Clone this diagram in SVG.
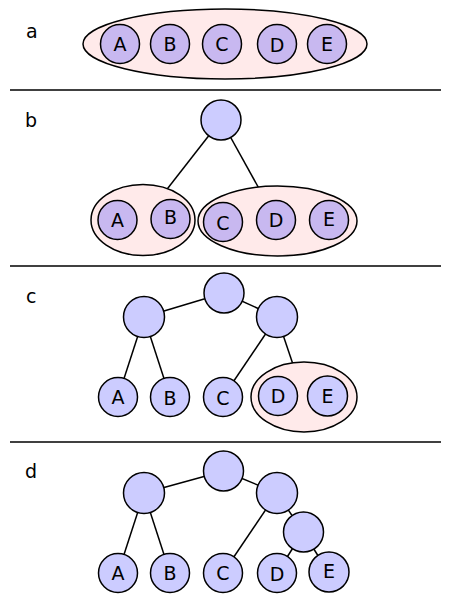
<svg xmlns="http://www.w3.org/2000/svg" width="450" height="602" viewBox="0 0 450 602">
<style>
.bg{fill:#ffffff}
.sep{stroke:#000;stroke-width:1.6}
.grp{fill:#ffeaea;stroke:#000;stroke-width:1.5}
.leafp{fill:#c8b8f0;stroke:#000;stroke-width:1.5}
.node{fill:#ccccff;stroke:#000;stroke-width:1.5}
.edge{stroke:#000;stroke-width:1.5;fill:none}
text{font-family:"DejaVu Sans","Liberation Sans",sans-serif;fill:#000}
.lbl{font-size:19px;text-anchor:middle}
.sec{font-size:19px}
</style>
<rect class="bg" width="450" height="602"/>
<g id="separators">
<line class="sep" x1="10" y1="90" x2="441" y2="90"/>
<line class="sep" x1="10" y1="266" x2="441" y2="266"/>
<line class="sep" x1="10" y1="442" x2="441" y2="442"/>
</g>
<g id="section-labels">
<text class="sec" x="26" y="38">a</text>
<text class="sec" x="25" y="127">b</text>
<text class="sec" x="26" y="303">c</text>
<text class="sec" x="25" y="478">d</text>
</g>
<g id="connectors">
<line class="edge" x1="221" y1="120" x2="143" y2="220"/>
<line class="edge" x1="221" y1="120" x2="277" y2="221"/>
<line class="edge" x1="224" y1="293" x2="144" y2="317"/>
<line class="edge" x1="224" y1="293" x2="277" y2="317"/>
<line class="edge" x1="144" y1="317" x2="118" y2="397"/>
<line class="edge" x1="144" y1="317" x2="170" y2="397"/>
<line class="edge" x1="277" y1="317" x2="223" y2="397"/>
<line class="edge" x1="277" y1="317" x2="304" y2="397"/>
<line class="edge" x1="224" y1="471" x2="144" y2="493"/>
<line class="edge" x1="224" y1="471" x2="277" y2="493"/>
<line class="edge" x1="144" y1="493" x2="118" y2="573"/>
<line class="edge" x1="144" y1="493" x2="170" y2="573"/>
<line class="edge" x1="277" y1="493" x2="223" y2="573"/>
<line class="edge" x1="277" y1="493" x2="303" y2="532"/>
<line class="edge" x1="303" y1="532" x2="277" y2="573"/>
<line class="edge" x1="303" y1="532" x2="329" y2="573"/>
</g>
<g id="a-group"><ellipse class="grp" cx="225" cy="44" rx="142" ry="35"/></g>
<g id="a-A"><circle class="leafp" cx="120" cy="44" r="19.5"/><text class="lbl" x="120" y="51">A</text></g>
<g id="a-B"><circle class="leafp" cx="170" cy="44" r="19.5"/><text class="lbl" x="170" y="51">B</text></g>
<g id="a-C"><circle class="leafp" cx="222" cy="44" r="19.5"/><text class="lbl" x="222" y="51">C</text></g>
<g id="a-D"><circle class="leafp" cx="277" cy="44" r="19.5"/><text class="lbl" x="277" y="52">D</text></g>
<g id="a-E"><circle class="leafp" cx="327" cy="44" r="19.5"/><text class="lbl" x="327" y="51">E</text></g>
<g id="b-root"><circle class="node" cx="221" cy="120" r="20"/></g>
<g id="b-group-AB"><ellipse class="grp" cx="143" cy="220" rx="52" ry="35.5"/></g>
<g id="b-group-CDE"><ellipse class="grp" cx="277.5" cy="221" rx="79.5" ry="35"/></g>
<g id="b-A"><circle class="leafp" cx="117.5" cy="220" r="19.5"/><text class="lbl" x="117.5" y="227">A</text></g>
<g id="b-B"><circle class="leafp" cx="170.5" cy="219" r="19.5"/><text class="lbl" x="170.5" y="224">B</text></g>
<g id="b-C"><circle class="leafp" cx="223" cy="222" r="19.5"/><text class="lbl" x="223" y="230">C</text></g>
<g id="b-D"><circle class="leafp" cx="276" cy="220" r="19.5"/><text class="lbl" x="276" y="227">D</text></g>
<g id="b-E"><circle class="leafp" cx="329" cy="220" r="19.5"/><text class="lbl" x="329" y="226">E</text></g>
<g id="c-root"><circle class="node" cx="224" cy="293" r="20"/></g>
<g id="c-left"><circle class="node" cx="144" cy="317" r="20.5"/></g>
<g id="c-right"><circle class="node" cx="277" cy="317" r="20.5"/></g>
<g id="c-A"><circle class="node" cx="118" cy="397" r="19.5"/><text class="lbl" x="118" y="404">A</text></g>
<g id="c-B"><circle class="node" cx="170" cy="397" r="19.5"/><text class="lbl" x="170" y="405">B</text></g>
<g id="c-C"><circle class="node" cx="223" cy="397" r="19.5"/><text class="lbl" x="223" y="405">C</text></g>
<g id="c-group-DE"><ellipse class="grp" cx="304" cy="397" rx="53" ry="35"/></g>
<g id="c-D"><circle class="node" cx="278" cy="396" r="19.5"/><text class="lbl" x="278" y="403">D</text></g>
<g id="c-E"><circle class="node" cx="327.5" cy="396" r="20"/><text class="lbl" x="327.5" y="403">E</text></g>
<g id="d-root"><circle class="node" cx="223.5" cy="471" r="20"/></g>
<g id="d-left"><circle class="node" cx="144" cy="493" r="20.5"/></g>
<g id="d-right"><circle class="node" cx="277" cy="493" r="20.5"/></g>
<g id="d-DE"><circle class="node" cx="303.5" cy="532" r="20"/></g>
<g id="d-A"><circle class="node" cx="118" cy="573" r="19.5"/><text class="lbl" x="118" y="580">A</text></g>
<g id="d-B"><circle class="node" cx="170" cy="573" r="19.5"/><text class="lbl" x="170" y="580">B</text></g>
<g id="d-C"><circle class="node" cx="223" cy="573" r="19.5"/><text class="lbl" x="223" y="580">C</text></g>
<g id="d-D"><circle class="node" cx="277" cy="573" r="19.5"/><text class="lbl" x="277" y="581">D</text></g>
<g id="d-E"><circle class="node" cx="329" cy="572" r="20"/><text class="lbl" x="329" y="578">E</text></g>
</svg>
